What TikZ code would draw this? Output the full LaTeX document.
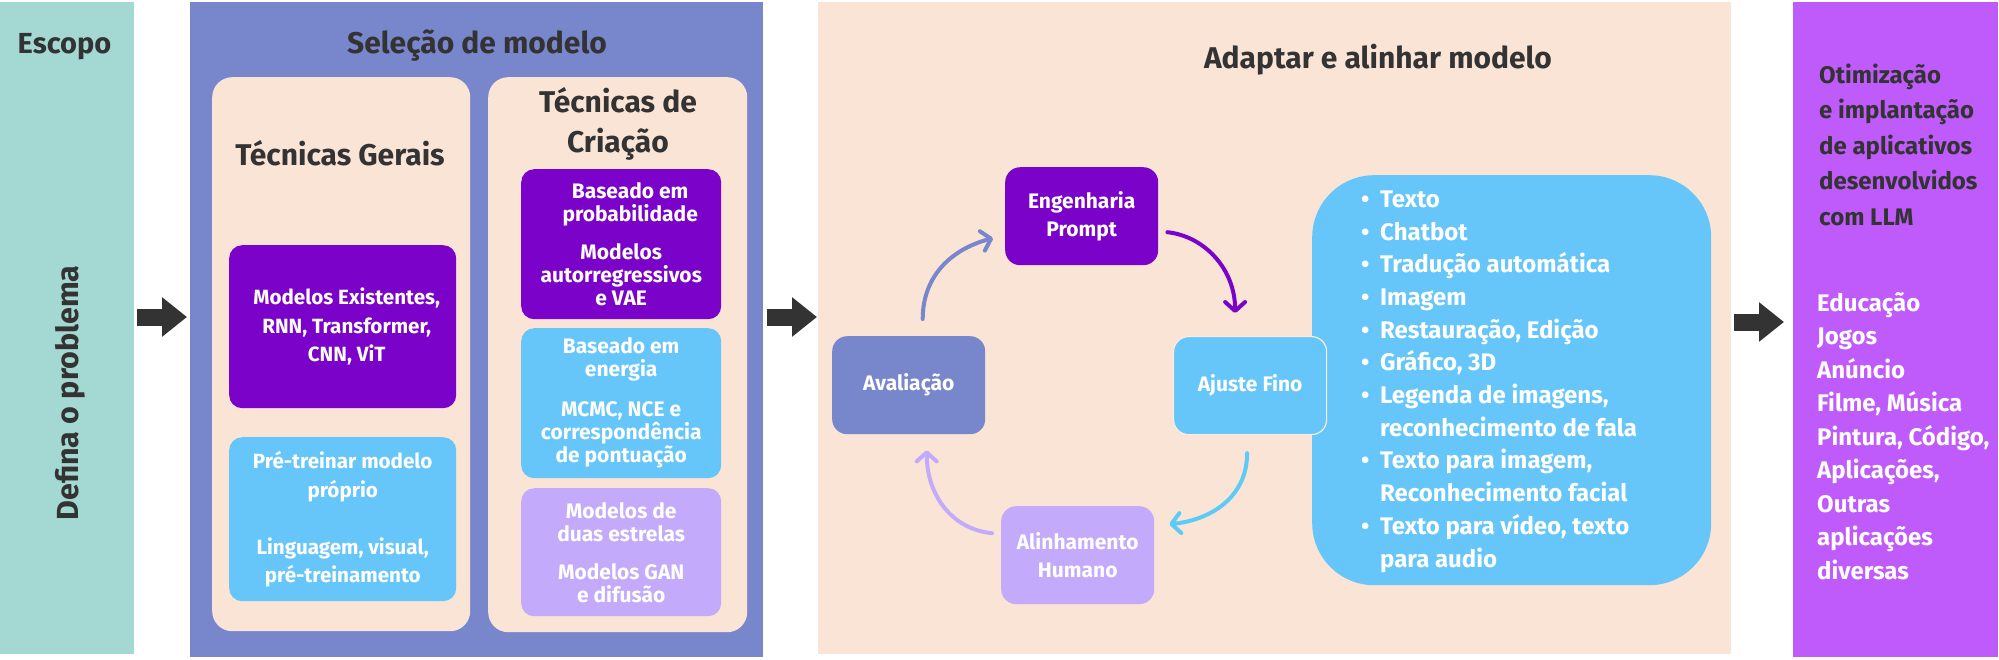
\documentclass[tikz,border=0pt]{standalone}
\usepackage{fontspec}
\setmainfont{Fira Sans}
\usetikzlibrary{arrows.meta,calc}
\definecolor{cTeal}{HTML}{A3D8D3}
\definecolor{cBlueGrey}{HTML}{7886CC}
\definecolor{cPeach}{HTML}{FAE4D6}
\definecolor{cPurple}{HTML}{7B03C9}
\definecolor{cSky}{HTML}{66C6FA}
\definecolor{cLav}{HTML}{C3AAFA}
\definecolor{cViolet}{HTML}{BF5BFA}
\definecolor{cDark}{HTML}{333333}
\definecolor{cSkyArrow}{HTML}{5ECBF6}
\begin{document}
\begin{tikzpicture}[x=1pt,y=-1pt,
  panel/.style={rectangle, inner sep=0pt, anchor=north west, draw=none},
  box/.style={rectangle, inner sep=0pt, anchor=north west, draw=none, align=center, text=white},
  title/.style={inner sep=0pt, text=cDark, font=\fontsize{30}{40}\selectfont\bfseries, align=center},
  gtext/.style={font=\fontsize{20.6}{28.5}\selectfont\bfseries},
  ctext/.style={font=\fontsize{21}{23}\selectfont\bfseries},
  cyc/.style={font=\fontsize{21}{28}\selectfont\bfseries, rounded corners=15pt, minimum width=153pt, minimum height=98pt},
  arr/.style={line width=4pt, line cap=round, -{Straight Barb[length=9pt,width=20pt,round]}},
  blk/.style={line width=17pt, draw=cDark, -{Triangle[length=25pt,width=38pt]}}]
\useasboundingbox (0,0) rectangle (1999,659);
% panels
\node[panel, fill=cTeal, minimum width=134pt, minimum height=652pt] (escopo) at (0,2) {};
\node[panel, fill=cBlueGrey, minimum width=573pt, minimum height=655pt] (selecao) at (190,2) {};
\node[panel, fill=cPeach, minimum width=913pt, minimum height=652pt] (adapt) at (818,2) {};
\node[panel, fill=cViolet, minimum width=205pt, minimum height=655pt] (otim) at (1793,2) {};
% titles
\node[title, font=\fontsize{29}{36}\selectfont\bfseries, anchor=base] (escopot) at (64.5,53) {Escopo};
\node[title, font=\fontsize{30.5}{36}\selectfont\bfseries, anchor=base, rotate=90] (defina) at (78,393) {Defina o problema};
\node[title, anchor=base] (selecaot) at (477,53) {Seleção de modelo};
\node[title, anchor=base] (adaptt) at (1378,68) {Adaptar e alinhar modelo};
% selecao inner
\node[box, fill=cPeach, rounded corners=20pt, minimum width=258pt, minimum height=554pt] (gerais) at (212,77) {};
\node[box, fill=cPeach, rounded corners=20pt, minimum width=259pt, minimum height=555pt] (criacao) at (488,77) {};
\node[title, anchor=base] (geraist) at (340,165) {Técnicas Gerais};
\node[title, anchor=base] (criacaot) at (618,152) {Técnicas de\\Criação};
\node[box, gtext, fill=cPurple, rounded corners=13pt, minimum width=227pt, minimum height=163pt] (modelos) at (229,245) {\hspace*{8pt}Modelos Existentes,\\\hspace*{8pt}RNN, Transformer,\\\hspace*{8pt}CNN, ViT};
\node[box, gtext, fill=cSky, rounded corners=13pt, minimum width=227pt, minimum height=164pt] (pretreino) at (229,437) {Pré-treinar modelo\\próprio\\[28.5pt]Linguagem, visual,\\pré-treinamento};
\node[box, ctext, fill=cPurple, rounded corners=13pt, minimum width=200pt, minimum height=150pt] (prob) at (521,169) {\hspace*{18pt}Baseado em\\\hspace*{18pt}probabilidade\\[15pt]Modelos\\autorregressivos\\e VAE};
\node[box, ctext, fill=cSky, rounded corners=13pt, minimum width=200pt, minimum height=150pt] (energia) at (521,328) {Baseado em\\energia\\[17pt]MCMC, NCE e\\correspondência\\de pontuação};
\node[box, ctext, fill=cLav, rounded corners=13pt, minimum width=200pt, minimum height=128pt] (gan) at (521,488) {Modelos de\\duas estrelas\\[15pt]Modelos GAN\\e difusão};
% adapt inner
\node[box, fill=cSky, rounded corners=62pt, minimum width=399pt, minimum height=410pt] (apps) at (1312,175) {};
\node[box, cyc, fill=cPurple] (eng) at (1005,167) {Engenharia\\Prompt};
\node[box, cyc, fill=cBlueGrey] (aval) at (832,336) {Avaliação};
\node[box, cyc, fill=cSky, draw=cPeach!70!white, line width=1.2pt] (ajuste) at (1173,336) {Ajuste Fino};
\node[box, cyc, fill=cLav] (alinh) at (1001,506) {Alinhamento\\Humano};
\node[inner sep=0pt, anchor=base west, align=left, text=white, font=\fontsize{24}{32.7}\selectfont\bfseries] (applist) at (1361,567) {%
\makebox[19pt][l]{•}Texto\\
\makebox[19pt][l]{•}Chatbot\\
\makebox[19pt][l]{•}Tradução automática\\
\makebox[19pt][l]{•}Imagem\\
\makebox[19pt][l]{•}Restauração, Edição\\
\makebox[19pt][l]{•}Gráfico, 3D\\
\makebox[19pt][l]{•}Legenda de imagens,\\
\hspace*{19pt}reconhecimento de fala\\
\makebox[19pt][l]{•}Texto para imagem,\\
\hspace*{19pt}Reconhecimento facial\\
\makebox[19pt][l]{•}Texto para vídeo, texto\\
\hspace*{19pt}para audio};
% otim text
\node[inner sep=0pt, anchor=base west, align=left, text=cDark, font=\fontsize{24}{35.5}\selectfont\bfseries] (otimt) at (1819,225) {Otimização\\e implantação\\de aplicativos\\desenvolvidos\\com LLM};
\node[inner sep=0pt, anchor=base west, align=left, text=white, font=\fontsize{24}{33.5}\selectfont\bfseries] (usos) at (1817,579) {Educação\\Jogos\\Anúncio\\Filme, Música\\Pintura, Código,\\Aplicações,\\Outras\\aplicações\\diversas};
% cycle arrows
\draw[arr, draw=cBlueGrey] ($(aval.north)+(14,-17)$) .. controls +(0,-45) and +(-39,10) .. ($(eng.west)+(-12,22)$);
\draw[arr, draw=cPurple] ($(eng.east)+(9,16)$) .. controls +(37,4) and +(0,-44) .. ($(ajuste.north)+(-15,-23)$);
\draw[arr, draw=cSkyArrow] ($(ajuste.south)+(-3,18)$) .. controls +(0,45) and +(40,-4) .. ($(alinh.east)+(15,-31)$);
\draw[arr, draw=cLav] ($(alinh.west)+(-9,-22)$) .. controls +(-40,-4) and +(0,45) .. ($(aval.south)+(18,16)$);
% block arrows
\coordinate (ay) at (0,317);
\coordinate (ay3) at (0,322);
\draw[blk, shorten <=3pt, shorten >=3pt] (escopo.east |- ay) -- (selecao.west |- ay);
\draw[blk, shorten <=4pt, shorten >=1pt] (selecao.east |- ay) -- (adapt.west |- ay);
\draw[blk, shorten <=3pt, shorten >=9pt] (adapt.east |- ay3) -- (otim.west |- ay3);
\end{tikzpicture}
\end{document}
